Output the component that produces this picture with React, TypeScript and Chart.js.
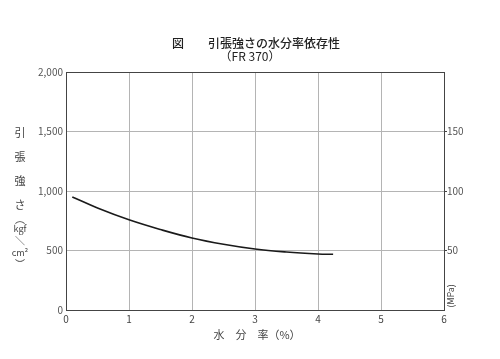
import React, { useEffect, useRef } from "react";
import { Chart, registerables } from "chart.js";

Chart.register(...registerables);

const moisture = [0.1, 0.5, 1, 1.5, 2, 2.5, 3, 3.5, 4, 4.24];
const strength = [950, 857, 758, 676, 605, 552, 512, 487, 471, 468];
const xTicks = [0, 1, 2, 3, 4, 5, 6];
const yTicks = [0, 500, 1000, 1500, 2000];
const mpaTicks = [50, 100, 150];
const titleMain = "図　　引張強さの水分率依存性";
const titleSub = "（FR 370）";
const xTitle = "水　分　率（%）";
const yTitleChars = ["引", "張", "強", "さ"];
const yUnitParts = ["︵", "kgf", "＼", "cm²", "︶"];
const rightUnit = "(MPa)";

const FONT = "'Noto Sans CJK JP', 'DejaVu Sans', sans-serif";

export default function App() {
  const ref = useRef<HTMLCanvasElement>(null);
  useEffect(() => {
    const textPlugin = {
      id: "texts",
      afterDraw(chart: any) {
        const ctx = chart.ctx;
        const a = chart.chartArea;
        ctx.save();
        // top border
        ctx.strokeStyle = "#444";
        ctx.lineWidth = 1;
        ctx.beginPath();
        ctx.moveTo(a.left, a.top + 0.5);
        ctx.lineTo(a.right, a.top + 0.5);
        ctx.stroke();
        // titles
        ctx.fillStyle = "#222";
        ctx.textAlign = "center";
        ctx.textBaseline = "middle";
        ctx.font = `500 12px ${FONT}`;
        ctx.fillText(titleMain, 256, 43);
        ctx.font = `12px ${FONT}`;
        ctx.fillText(titleSub, 250, 56);
        // x title
        ctx.fillStyle = "#444";
        ctx.font = `11px ${FONT}`;
        ctx.fillText(xTitle, 257, 335);
        // y title
        ctx.font = `11px ${FONT}`;
        yTitleChars.forEach((c, i) => ctx.fillText(c, 20, 133 + i * 24));
        const ys = [219, 229, 241, 253, 264];
        yUnitParts.forEach((p, i) => {
          ctx.font = i === 1 || i === 3 ? `9px ${FONT}` : `10px ${FONT}`;
          ctx.fillText(p, 20, ys[i]);
        });
        // right unit
        ctx.translate(451, 296);
        ctx.rotate(-Math.PI / 2);
        ctx.font = `9px ${FONT}`;
        ctx.fillText(rightUnit, 0, 0);
        ctx.restore();
      },
    };

    const chart = new Chart(ref.current!, {
      type: "line",
      data: {
        datasets: [
          {
            data: moisture.map((x, i) => ({ x, y: strength[i] })),
            borderColor: "#1a1a1a",
            borderWidth: 1.6,
            pointRadius: 0,
            tension: 0.4,
            fill: false,
          },
        ],
      },
      options: {
        animation: false,
        responsive: false,
        layout: { padding: { top: 72, left: 0, right: 0, bottom: 0 } },
        plugins: { legend: { display: false }, tooltip: { enabled: false } },
        scales: {
          x: {
            type: "linear",
            min: 0,
            max: 6,
            afterBuildTicks: (s: any) => {
              s.ticks = xTicks.map((v) => ({ value: v }));
            },
            afterFit: (s: any) => {
              s.height = 49;
            },
            grid: { color: "#b4b4b4", drawTicks: false },
            border: { color: "#444" },
            ticks: {
              padding: 3,
              color: "#444",
              font: { family: FONT, size: 10 },
              callback: (v: any) => String(v),
            },
          },
          y: {
            min: 0,
            max: 2000,
            afterBuildTicks: (s: any) => {
              s.ticks = yTicks.map((v) => ({ value: v }));
            },
            afterFit: (s: any) => {
              s.width = 66;
            },
            grid: { color: "#b4b4b4", drawTicks: false },
            border: { color: "#444" },
            ticks: {
              padding: 3,
              color: "#555",
              font: { family: FONT, size: 10 },
              callback: (v: any) => Number(v).toLocaleString("en-US"),
            },
          },
          y2: {
            position: "right",
            min: 0,
            max: 200,
            afterBuildTicks: (s: any) => {
              s.ticks = mpaTicks.map((v) => ({ value: v }));
            },
            afterFit: (s: any) => {
              s.width = 56;
            },
            grid: { drawOnChartArea: false, drawTicks: true, tickLength: 3, color: "#444" },
            border: { color: "#444" },
            ticks: {
              padding: 0,
              color: "#555",
              font: { family: FONT, size: 10 },
            },
          },
        },
      },
      plugins: [textPlugin],
    } as any);
    return () => chart.destroy();
  }, []);

  return (
    <div style={{ position: "absolute", left: 0, top: 0, width: 500, height: 359, background: "#fff" }}>
      <canvas ref={ref} width={500} height={359} style={{ display: "block" }} />
    </div>
  );
}
